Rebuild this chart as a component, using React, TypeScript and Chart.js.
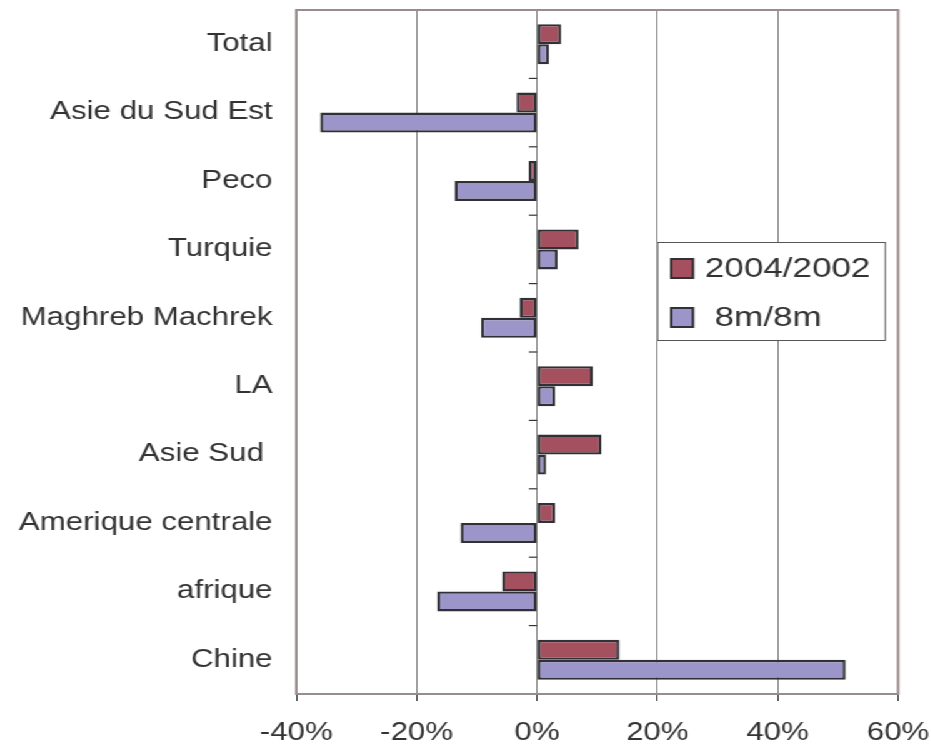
import React, { useEffect, useRef } from "react";
import { Chart, registerables } from "chart.js";

Chart.register(...registerables);

const categories = [
  "Total",
  "Asie du Sud Est",
  "Peco",
  "Turquie",
  "Maghreb Machrek",
  "LA",
  "Asie Sud ",
  "Amerique centrale",
  "afrique",
  "Chine",
];
const series2004 = [4.0, -3.4, -1.4, 6.9, -2.9, 9.3, 10.7, 3.0, -5.8, 13.7];
const series8m = [2.0, -36.0, -13.7, 3.4, -9.3, 3.0, 1.5, -12.7, -16.6, 51.3];
const seriesNames = ["2004/2002", " 8m/8m"];
const xMin = -40;
const xMax = 60;
const xStep = 20;

const RED = "#A5505E";
const BLUE = "#9C95C9";
const EDGE = "#303036";
const FONT = "'Liberation Sans', Arial, sans-serif";

const decorPlugin = {
  id: "decor",
  afterDraw(chart: any) {
    const { ctx, chartArea, scales } = chart;
    const xs = scales.x;
    ctx.save();
    // y tick marks at zero
    const x0 = xs.getPixelForValue(0);
    ctx.strokeStyle = "#333";
    ctx.lineWidth = 1.2;
    const n = categories.length;
    for (let i = 0; i <= n; i++) {
      const y = chartArea.top + ((chartArea.bottom - chartArea.top) * i) / n;
      ctx.beginPath();
      ctx.moveTo(x0 - 6.5, y);
      ctx.lineTo(x0, y);
      ctx.stroke();
    }
    // plot border
    ctx.strokeStyle = "#9A8C8C";
    ctx.lineWidth = 2;
    ctx.strokeRect(
      chartArea.left,
      chartArea.top,
      chartArea.right - chartArea.left,
      chartArea.bottom - chartArea.top
    );
    // legend
    const lx = 525.6, ly = 242, lw = 183.2, lh = 99;
    ctx.fillStyle = "#fff";
    ctx.fillRect(lx, ly, lw, lh);
    ctx.strokeStyle = "#555";
    ctx.lineWidth = 1;
    ctx.strokeRect(lx + 0.5, ly + 0.5, lw - 1, lh - 1);
    const colors = [RED, BLUE];
    const rows = [259, 308];
    ctx.font = `28px ${FONT}`;
    ctx.textBaseline = "middle";
    ctx.textAlign = "left";
    for (let i = 0; i < 2; i++) {
      ctx.fillStyle = colors[i];
      ctx.fillRect(537, rows[i], 17.4, 19);
      ctx.strokeStyle = EDGE;
      ctx.lineWidth = 2;
      ctx.strokeRect(537, rows[i], 17.4, 19);
      ctx.fillStyle = "#333";
      ctx.fillText(seriesNames[i], 564, rows[i] + 10);
    }
    ctx.restore();
  },
};

const zeroPad = (s: any) => {
  s.paddingLeft = 0;
  s.paddingRight = 0;
  s.paddingTop = 0;
  s.paddingBottom = 0;
};

export default function App() {
  const ref = useRef<HTMLCanvasElement | null>(null);
  useEffect(() => {
    if (!ref.current) return;
    const chart = new Chart(ref.current, {
      type: "bar",
      data: {
        labels: categories,
        datasets: [
          {
            label: seriesNames[0],
            data: series2004,
            backgroundColor: RED,
            borderColor: EDGE,
            borderWidth: 2.4,
            borderSkipped: false,
            categoryPercentage: 0.585,
            barPercentage: 1,
          },
          {
            label: seriesNames[1],
            data: series8m,
            backgroundColor: BLUE,
            borderColor: EDGE,
            borderWidth: 2.4,
            borderSkipped: false,
            categoryPercentage: 0.585,
            barPercentage: 1,
          },
        ],
      },
      options: {
        indexAxis: "y",
        responsive: false,
        animation: false,
        layout: { padding: { left: 0, top: 10, right: 26.5, bottom: 0 } },
        plugins: {
          legend: { display: false },
          tooltip: { enabled: false },
        },
        scales: {
          x: {
            min: xMin,
            max: xMax,
            grid: {
              color: "#808080",
              lineWidth: 1,
              drawTicks: true,
              tickLength: 7,
              tickColor: "#333",
            },
            border: { display: false },
            ticks: {
              stepSize: xStep,
              padding: 17,
              color: "#333",
              font: { family: FONT, size: 25 },
              maxRotation: 0,
              callback: (v: any) => `${v}%`,
            },
            afterFit: (s: any) => {
              s.height = 51;
              zeroPad(s);
            },
          },
          y: {
            grid: { display: false },
            border: { display: false },
            ticks: {
              padding: 11,
              color: "#333",
              font: { family: FONT, size: 25 },
            },
            afterFit: (s: any) => {
              s.width = 237;
              zeroPad(s);
            },
          },
        },
      },
      plugins: [decorPlugin],
    } as any);
    return () => chart.destroy();
  }, []);
  return (
    <div
      style={{
        position: "fixed",
        left: 0,
        top: 0,
        width: 745,
        height: 745,
        background: "#fff",
        transform: "scaleX(1.25)",
        transformOrigin: "left top",
      }}
    >
      <canvas ref={ref} width={745} height={745} />
    </div>
  );
}
